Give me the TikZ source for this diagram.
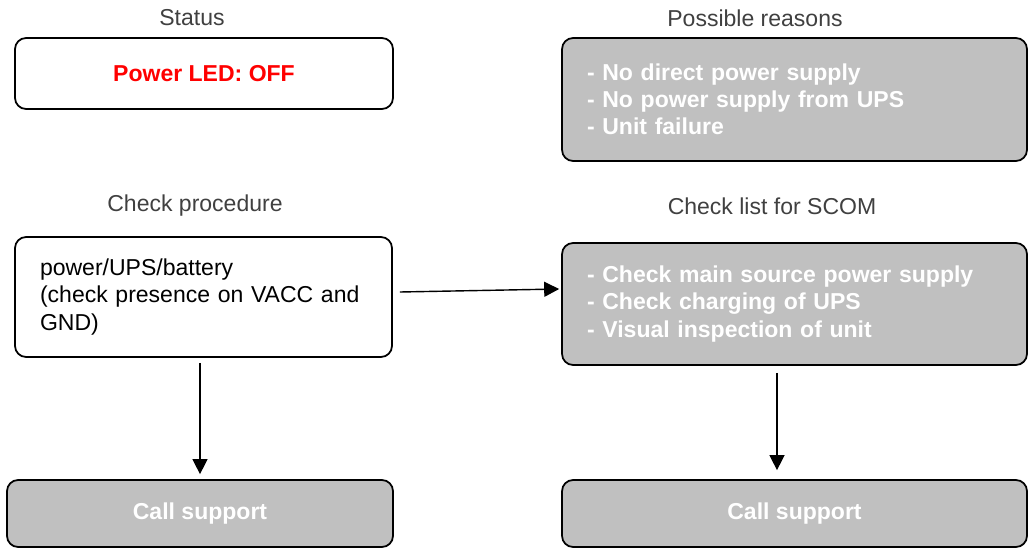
\documentclass[tikz,border=0pt]{standalone}
\usepackage{fontspec}
\setmainfont{Liberation Sans}
\usetikzlibrary{arrows.meta}
\definecolor{boxgray}{HTML}{C0C0C0}
\definecolor{headgray}{HTML}{404040}

\begin{document}
\begin{tikzpicture}[x=0.02cm, y=-0.02cm,
		every node/.style={font=\fontsize{13.1}{15.4}\selectfont},
		heading/.style={text=headgray},
		box/.style={draw, line width=1pt, rounded corners=.22cm, fill=white, inner xsep=.5cm},
		graybox/.style={box, fill=boxgray, text=white, font=\fontsize{13.1}{15.4}\selectfont\bfseries},
		arrow/.style={line width=.8pt, -{Triangle[length=.3cm, width=.3cm]}}]
		\useasboundingbox (0, 0) rectangle (1028, 548);
		%Überschriften
		\node (headStatus) [heading] at (192, 18) {Status};
		\node (headReasons) [heading] at (755, 18) {Possible reasons};
		\node (headCheck) [heading] at (195, 206) {Check procedure};
		\node (headList) [heading] at (772, 206) {Check list for SCOM};
		%Kästen
		\node (status) [box, minimum width=7.56cm, minimum height=1.42cm, text=red, font=\fontsize{13.1}{15.4}\selectfont\bfseries] at (204, 73.5) {Power LED: OFF};
		\node (reasons) [graybox, text width=8.3cm, align=left, minimum height=2.46cm] at (794.5, 99.5) {- No direct power supply\\- No power supply from UPS\\- Unit failure};
		\node (check) [box, text width=6.54cm, align=left, minimum height=2.4cm] at (203.5, 297) {power/UPS/battery\\(check presence on VACC and\\GND)};
		\node (checklist) [graybox, text width=8.3cm, align=left, minimum height=2.44cm] at (794.5, 304) {- Check main source power supply\\- Check charging of UPS\\- Visual inspection of unit};
		\node (support1) [graybox, minimum width=7.72cm, minimum height=1.34cm] at (200, 513.5) {Call support};
		\node (support2) [graybox, minimum width=9.3cm, minimum height=1.34cm] at (794.5, 513.5) {Call support};
		%Pfeile
		\draw [arrow] ([shift={(7, -5)}]check.east) to ([shift={(-2, -15)}]checklist.west);
		\draw [arrow] ([shift={(-3.5, 5)}]check.south) to ([yshift=.1cm]support1.north);
		\draw [arrow] ([shift={(-17.5, 7)}]checklist.south) to ([shift={(-17.5, -9)}]support2.north);
	\end{tikzpicture}
\end{document}
